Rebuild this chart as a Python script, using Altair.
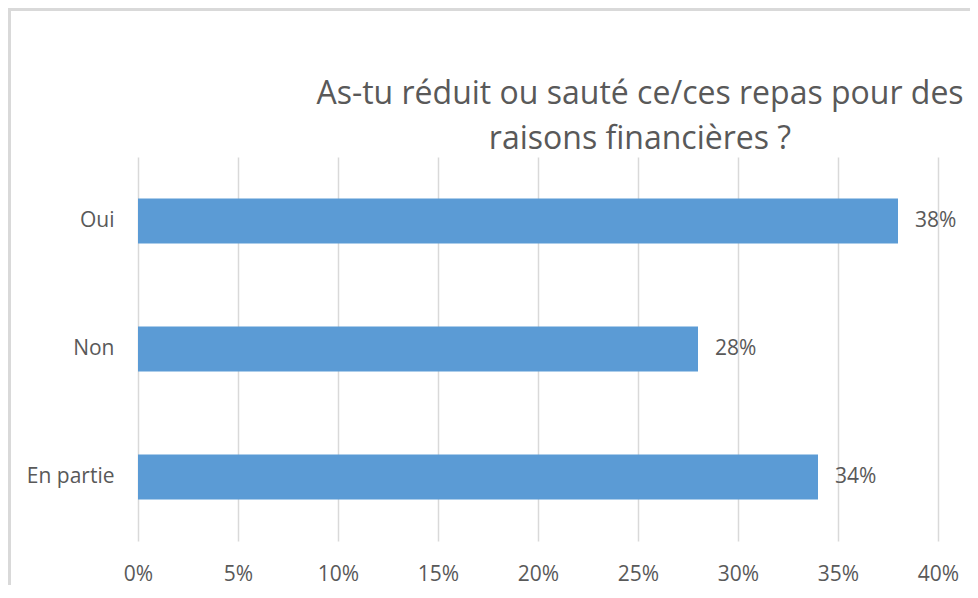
import altair as alt
import pandas as pd

categories = ["Oui", "Non", "En partie"]
values = [0.38, 0.28, 0.34]
tick_values = [0, 0.05, 0.10, 0.15, 0.20, 0.25, 0.30, 0.35, 0.40]
title_lines = ["As-tu réduit ou sauté ce/ces repas pour des", "raisons financières ?"]

df = pd.DataFrame({"cat": categories, "val": values})
title_df = pd.DataFrame({"t": ["\n".join(title_lines)]})

FONT = "Open Sans"
GRAY = "#595959"

y_enc = alt.Y("cat:N", sort=categories, title=None,
              scale=alt.Scale(paddingInner=0.648, paddingOuter=0.324),
              axis=alt.Axis(labelFont=FONT, labelFontSize=21, labelColor=GRAY,
                            labelPadding=24, ticks=False, domain=False, grid=False))
x_enc = alt.X("val:Q", title=None,
              scale=alt.Scale(domain=[0, 0.4], nice=False),
              axis=alt.Axis(values=tick_values, format=".0%", labelFont=FONT,
                            labelFontSize=21, labelColor=GRAY, labelPadding=22,
                            labelFlush=False,
                            ticks=False, domain=False, grid=True,
                            gridColor="#d9d9d9", gridWidth=1.5))

bars = alt.Chart(df).mark_bar(color="#5B9BD5").encode(x=x_enc, y=y_enc)
labels = alt.Chart(df).mark_text(align="left", baseline="middle", dx=17,
                                 font=FONT, fontSize=21, color=GRAY).encode(
    x="val:Q", y=alt.Y("cat:N", sort=categories),
    text=alt.Text("val:Q", format=".0%"))

title = alt.Chart(title_df).mark_text(align="center", baseline="alphabetic",
                                      lineBreak="\n", lineHeight=45,
                                      font=FONT, fontSize=32, color=GRAY).encode(
    x=alt.value(502), y=alt.value(-53), text="t:N")

border_left = alt.Chart(df).mark_rule(color="#d9d9d9", strokeWidth=3).encode(
    x=alt.value(-128.5), y=alt.value(-149), y2=alt.value(428))
border_top = alt.Chart(df).mark_rule(color="#d9d9d9", strokeWidth=3).encode(
    x=alt.value(-130), x2=alt.value(832), y=alt.value(-147.5))

chart = alt.layer(bars, labels, title, border_left, border_top).properties(
    width=800, height=384,
    autosize=alt.AutoSizeParams(type="none"),
    padding={"left": 130, "top": 149, "right": 32, "bottom": 44},
).configure_view(stroke=None)

chart.save("out.html", embed_options={"renderer": "svg", "actions": False})
